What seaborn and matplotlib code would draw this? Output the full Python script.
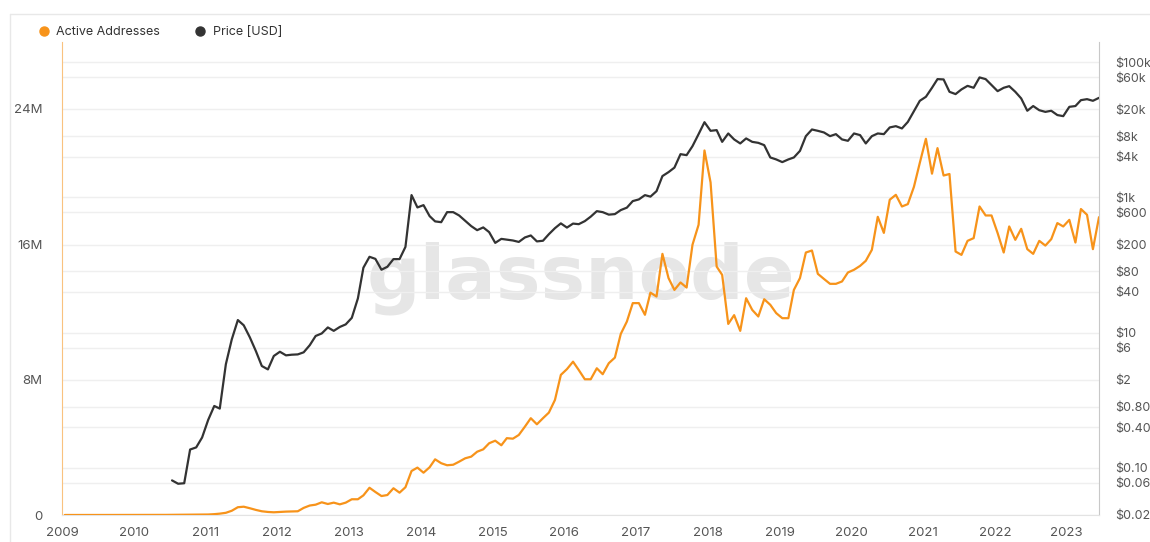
import pandas as pd
import seaborn as sns
import matplotlib.pyplot as plt
from matplotlib.lines import Line2D
from matplotlib.ticker import NullLocator

# monthly active addresses (millions), Jan 2009 - Jun 2023
active_addresses = [
    0.001, 0.002, 0.002, 0.002, 0.002, 0.002, 0.002, 0.002, 0.002, 0.002, 0.002, 0.003,
    0.003, 0.004, 0.004, 0.005, 0.006, 0.007, 0.012, 0.014, 0.015, 0.02, 0.025, 0.03,
    0.03, 0.05, 0.08, 0.13, 0.25, 0.46, 0.49, 0.40, 0.30, 0.22, 0.18, 0.16,
    0.18, 0.20, 0.21, 0.22, 0.42, 0.56, 0.61, 0.75, 0.65, 0.73, 0.63, 0.73,
    0.93, 0.93, 1.16, 1.61, 1.36, 1.12, 1.18, 1.58, 1.32, 1.64, 2.60, 2.80,
    2.50, 2.82, 3.29, 3.06, 2.94, 2.97, 3.15, 3.35, 3.45, 3.74, 3.88, 4.24,
    4.39, 4.12, 4.54, 4.51, 4.73, 5.22, 5.72, 5.36, 5.72, 6.05, 6.80, 8.28,
    8.62, 9.06, 8.57, 8.02, 8.02, 8.67, 8.32, 8.97, 9.30, 10.70, 11.43, 12.52,
    12.52, 11.83, 13.14, 12.91, 15.43, 14.00, 13.30, 13.74, 13.44, 15.97, 17.15, 21.54,
    19.65, 14.68, 14.19, 11.29, 11.81, 10.88, 12.81, 12.12, 11.73, 12.75, 12.42, 11.93,
    11.63, 11.63, 13.30, 14.00, 15.51, 15.63, 14.25, 13.95, 13.66, 13.66, 13.80, 14.33,
    14.49, 14.72, 15.02, 15.67, 17.62, 16.67, 18.63, 18.92, 18.23, 18.37, 19.39, 20.81,
    22.23, 20.17, 21.68, 20.06, 20.15, 15.57, 15.37, 16.20, 16.36, 18.23, 17.70, 17.70,
    16.66, 15.51, 17.05, 16.26, 16.91, 15.71, 15.43, 16.20, 15.92, 16.30, 17.25, 17.05,
    17.44, 16.10, 18.08, 17.74, 15.71, 17.60,
]

# monthly price in USD, Jul 2010 - Jun 2023
price_usd = [
    0.065, 0.058, 0.059, 0.186, 0.20, 0.28,
    0.51, 0.82, 0.75, 3.4, 7.9, 15.3, 12.8, 8.5, 5.3, 3.2, 2.85, 4.5,
    5.2, 4.6, 4.7, 4.75, 5.1, 6.5, 8.9, 9.7, 11.9, 10.6, 12.1, 13.2,
    16.5, 32, 91, 132, 123, 85, 94, 122, 122, 185, 1080, 709,
    767, 528, 441, 429, 604, 604, 540, 450, 375, 327, 359, 306,
    212, 243, 237, 230, 219, 255, 273, 223, 228, 285, 350, 412,
    357, 409, 401, 445, 518, 625, 604, 555, 565, 648, 704, 880,
    932, 1079, 1025, 1235, 2064, 2360, 2752, 4353, 4210, 5717, 8610, 12930,
    9640, 9870, 6620, 8810, 7190, 6270, 7440, 6620, 6400, 5920, 3890, 3640,
    3320, 3640, 3890, 4870, 8040, 10090, 9640, 9120, 8040, 8610, 7190, 6860,
    8810, 8330, 6270, 8040, 8810, 8610, 10820, 11300, 10450, 13050, 18740, 26800,
    30720, 41750, 56100, 55500, 36400, 33680, 39500, 44590, 41750, 59420, 56100, 45780,
    37240, 41750, 44120, 36410, 29060, 19090, 22420, 19450, 18380, 19090, 16490, 15890,
    21820, 22420, 27400, 28350, 26800, 29650,
]

price_ticks = [100000, 60000, 20000, 8000, 4000, 1000, 600, 200, 80, 40,
               10, 6, 2, 0.8, 0.4, 0.1, 0.06, 0.02]
price_tick_labels = ['$100k', '$60k', '$20k', '$8k', '$4k', '$1k', '$600', '$200', '$80', '$40',
                     '$10', '$6', '$2', '$0.80', '$0.40', '$0.10', '$0.06', '$0.02']
address_ticks = [0, 8, 16, 24]
address_tick_labels = ['0', '8M', '16M', '24M']
years = list(range(2009, 2024))

ORANGE = '#f7931a'
DARK = '#333333'
TXT = '#555555'

sns.set_style('white')
plt.rcParams['font.family'] = ['Inter', 'DejaVu Sans']

months = pd.date_range('2009-01-01', periods=len(active_addresses), freq='MS') + pd.Timedelta(days=14)
df_addr = pd.DataFrame({'date': months, 'addresses': active_addresses})
df_price = pd.DataFrame({'date': months[-len(price_usd):], 'price': price_usd})

fig = plt.figure(figsize=(11.5, 5.42), dpi=100)
ax = fig.add_axes([62 / 1150, 27 / 542, 1037 / 1150, 473 / 542])

# price on the primary (log) axis so its grid sits under both lines
ax.set_yscale('log')
ax.grid(axis='y', color='#efefef', linewidth=1)
ax.grid(axis='x', visible=False)
ax.text(0.5, 0.5, 'glassnode', transform=ax.transAxes, ha='center', va='center',
        fontsize=54, fontweight='bold', color='#e6e6e6', family='DejaVu Sans', zorder=0)
sns.lineplot(data=df_price, x='date', y='price', ax=ax, color=DARK, linewidth=1.6, zorder=3)

ax2 = ax.twinx()
sns.lineplot(data=df_addr, x='date', y='addresses', ax=ax2, color=ORANGE, linewidth=1.6, zorder=3)
ax2.set_ylim(0, 27.95)
ax2.set_yticks(address_ticks)
ax2.set_yticklabels(address_tick_labels)
ax2.yaxis.tick_left()
ax2.grid(False)

ax.set_ylim(0.02, 198600)
ax.set_yticks(price_ticks)
ax.set_yticklabels(price_tick_labels)
ax.yaxis.set_minor_locator(NullLocator())
ax.yaxis.tick_right()

ax.set_xlim(pd.Timestamp('2009-01-01'), months[-1])
ax.set_xticks([pd.Timestamp(f'{y}-01-01') for y in years])
ax.set_xticklabels([str(y) for y in years])

for a in (ax, ax2):
    a.set_xlabel('')
    a.set_ylabel('')
ax2.tick_params(axis='y', length=0, labelsize=9.5, labelcolor=TXT, pad=14)
ax.tick_params(axis='y', length=0, labelsize=9, labelcolor=TXT, pad=12)
ax.tick_params(axis='x', length=4, color='#dddddd', labelsize=9.5, labelcolor=TXT, pad=5)

for s in ax2.spines.values():
    s.set_visible(False)
ax.spines['top'].set_visible(False)
ax.spines['left'].set_color('#f9c27f')
ax.spines['right'].set_color('#c8c8c8')
ax.spines['bottom'].set_color('#e3e3e3')

# card border
fig.add_artist(Line2D([10 / 1150, 1], [1 - 14 / 542] * 2, color='#e8e8e8', lw=1))
fig.add_artist(Line2D([10 / 1150] * 2, [0, 1 - 14 / 542], color='#e8e8e8', lw=1))

handles = [Line2D([], [], marker='o', ls='', color=ORANGE, markersize=6.5, label='Active Addresses'),
           Line2D([], [], marker='o', ls='', color=DARK, markersize=6.5, label='Price [USD]')]
fig.legend(handles=handles, loc='center left', bbox_to_anchor=(20 / 1150, 1 - 32 / 542), ncol=2,
           frameon=False, handletextpad=0.0, columnspacing=2.2, fontsize=9, labelcolor='#333333')

plt.savefig('out.png', dpi=100)
